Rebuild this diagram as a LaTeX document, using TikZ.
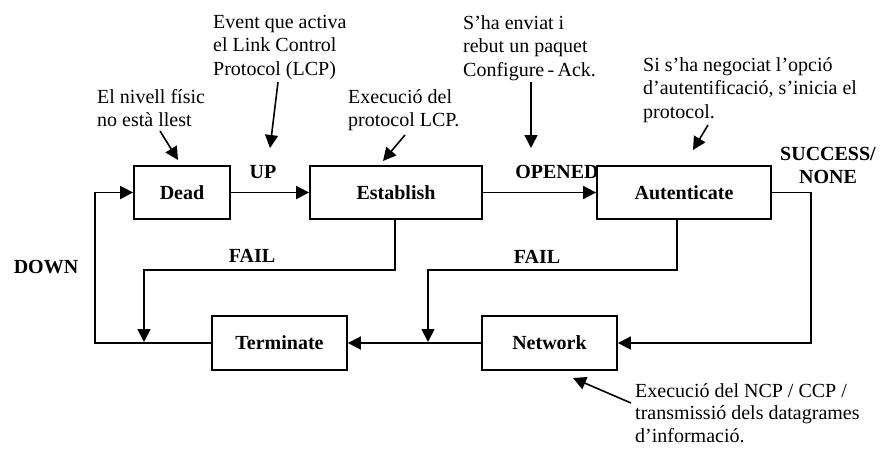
\documentclass[tikz,border=0pt]{standalone}
\usepackage{fontspec}
\setmainfont{Liberation Serif}
\usetikzlibrary{arrows.meta}
\begin{document}
\begin{tikzpicture}[x=1pt,y=-1pt,
  box/.style={draw, line width=1.8pt, minimum height=53pt, inner sep=0pt,
    font=\bfseries\fontsize{20}{24}\selectfont},
  flow/.style={line width=1.8pt, -{Triangle[length=13pt,width=13pt]}},
  lab/.style={font=\bfseries\fontsize{20}{23}\selectfont, inner sep=0pt, align=center},
  note/.style={font=\fontsize{20}{23.5}\selectfont, inner sep=0pt, align=left, anchor=north west},
  pointer/.style={line width=1.6pt, -{Triangle[length=13pt,width=13pt]}}]

\useasboundingbox (0,0) rectangle (887,448);

% state boxes
\node[box, minimum width=96pt]  (dead) at (182,192.5) {Dead};
\node[box, minimum width=172pt] (est)  at (396,192.5) {Establish};
\node[box, minimum width=174pt] (aut)  at (684,192.5) {Autenticate};
\node[box, minimum width=135pt, minimum height=54pt] (term) at (279.5,343) {Terminate};
\node[box, minimum width=135pt, minimum height=54pt] (net)  at (549.5,343) {Network};

% transitions
\coordinate (f1) at (144,342);
\coordinate (f2) at (428,342);
\draw[flow] (dead.east) -- (est.west);
\draw[flow] (est.east) -- (aut.west);
\draw[flow] (aut.east) -- ++(39,0) |- (net.east);
\draw[flow] (net.west) -- (term.east);
\draw[flow] (term.west) -- ++(-116,0) |- (dead.west);
\draw[flow] ([xshift=-1pt]est.south) -- ++(0,50) -| (f1);
\draw[flow] ([xshift=-7pt]aut.south) -- ++(0,50) -| (f2);

% transition labels
\node[lab] (up)     at (263,172) {UP};
\node[lab] (opened) at (557,172) {OPENED};
\node[lab] (fail1)  at (252,256) {FAIL};
\node[lab] (fail2)  at (537,257) {FAIL};
\node[lab] (down)   at (46,267)  {DOWN};
\node[lab] (succ)   at (828,165) {SUCCESS/\\NONE};

% annotations
\node[note] (n1) at (97,89)  {El nivell físic\\no està llest};
\node[note] (n2) at (213,15) {Event que activa\\el Link Control\\Protocol (LCP)};
\node[note] (n3) at (348,89) {Execució del\\protocol LCP.};
\node[note] (n4) at (463,15) {S’ha enviat i\\rebut un paquet\\Configure\,-\,Ack.};
\node[note] (n5) at (643,57) {Si s’ha negociat l’opció\\d’autentificació, s’inicia el\\protocol.};
\node[note, font=\fontsize{20}{22.5}\selectfont] (n6) at (635,383) {Execució del NCP / CCP /\\transmissió dels datagrames\\d’informació.};

% annotation pointers
\coordinate (a1s) at (160,131); \coordinate (a1e) at (178,160);
\coordinate (a2s) at (278,82);  \coordinate (a2e) at (270,148);
\coordinate (a3s) at (405,135); \coordinate (a3e) at (383,161);
\coordinate (a4s) at (531,82);  \coordinate (a4e) at (531,148);
\coordinate (a5s) at (708,125); \coordinate (a5e) at (693,150);
\coordinate (a6s) at (631,403); \coordinate (a6e) at (573,378);
\draw[pointer] (a1s) -- (a1e);
\draw[pointer] (a2s) -- (a2e);
\draw[pointer] (a3s) -- (a3e);
\draw[pointer] (a4s) -- (a4e);
\draw[pointer] (a5s) -- (a5e);
\draw[pointer] (a6s) -- (a6e);
\end{tikzpicture}
\end{document}
